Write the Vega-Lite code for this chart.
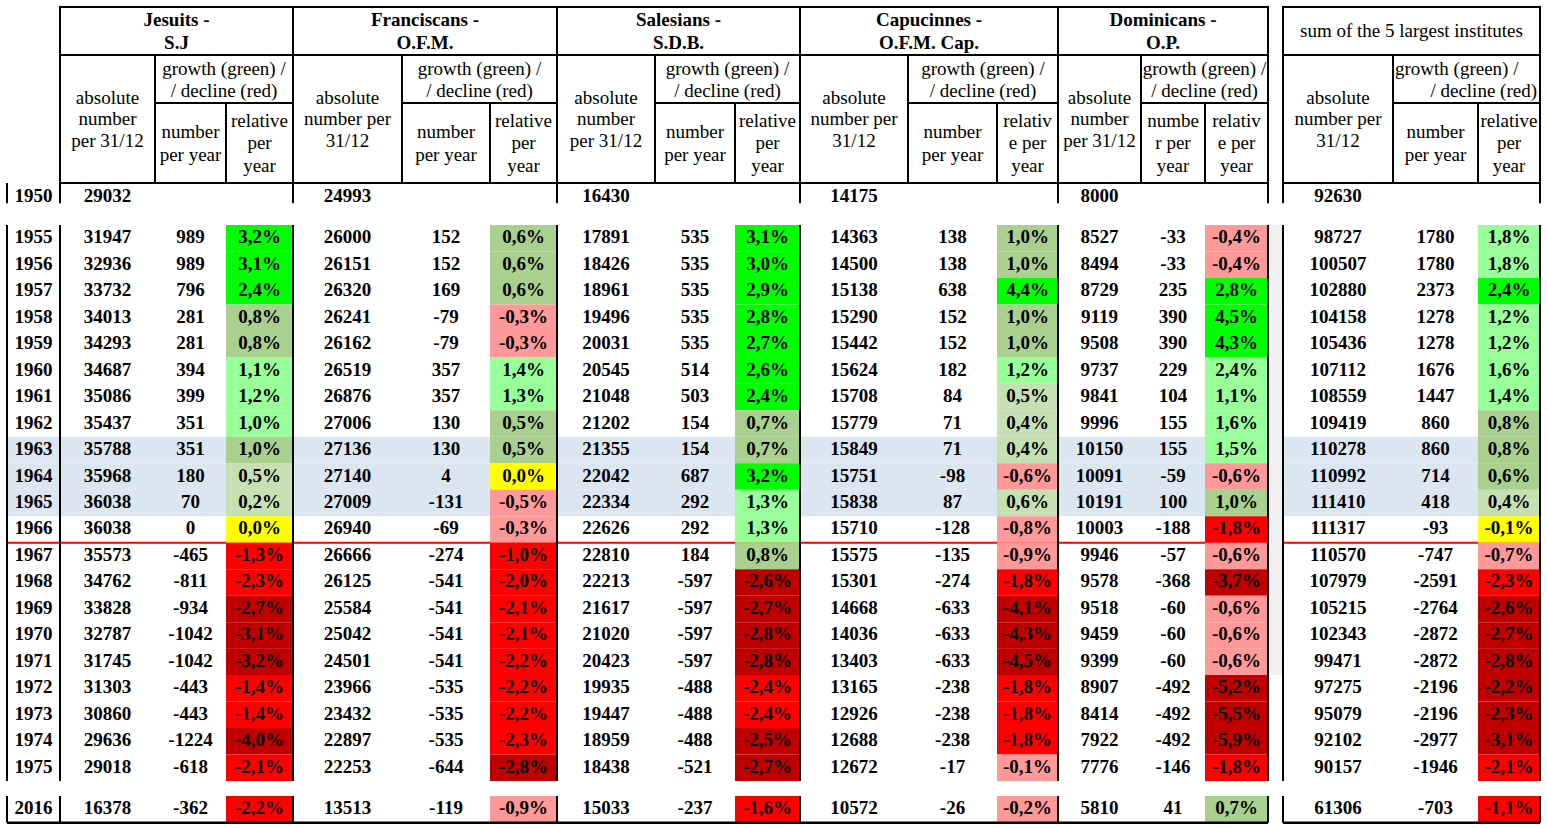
{
"$schema":"https://vega.github.io/schema/vega-lite/v6.json",
"width":1547,"height":828,
"autosize":{"type":"fit","contains":"padding"},
"padding":0,
"background":"#ffffff",
"config":{"view":{"stroke":null},"locale":{"number":{"decimal":",","thousands":".","grouping":[3],"currency":["",""],"minus":"-"}}},
"datasets":{
"cols":[
{"i":"J","L":10,"am":11,"E1":12,"gm":13,"nm":14,"grm":15,"E2":16,"rm":17,"R":20},
{"i":"F","L":20,"am":21,"E1":22,"gm":23,"nm":24,"grm":25,"E2":26,"rm":27,"R":30},
{"i":"S","L":30,"am":31,"E1":32,"gm":33,"nm":34,"grm":35,"E2":36,"rm":37,"R":40},
{"i":"C","L":40,"am":41,"E1":42,"gm":43,"nm":44,"grm":45,"E2":46,"rm":47,"R":50},
{"i":"D","L":50,"am":51,"E1":52,"gm":53,"nm":54,"grm":55,"E2":56,"rm":57,"R":60},
{"i":"T","L":70,"am":71,"E1":72,"gm":73,"nm":74,"grm":75,"E2":76,"rm":77,"R":78}
],
"edges":[{"e":0},{"e":10},{"e":20},{"e":30},{"e":40},{"e":50},{"e":60},{"e":70},{"e":78}],
"head":[
{"i":"J","lv":"inst","t":"Jesuits -\nS.J"},
{"i":"F","lv":"inst","t":"Franciscans -\nO.F.M."},
{"i":"S","lv":"inst","t":"Salesians -\nS.D.B."},
{"i":"C","lv":"inst","t":"Capucinnes -\nO.F.M. Cap."},
{"i":"D","lv":"inst","t":"Dominicans -\nO.P."},
{"i":"T","lv":"inst","t":"sum of the 5 largest institutes"},
{"i":"J","lv":"grow","t":"growth (green) /\n/ decline (red)"},
{"i":"F","lv":"grow","t":"growth (green) /\n/ decline (red)"},
{"i":"S","lv":"grow","t":"growth (green) /\n/ decline (red)"},
{"i":"C","lv":"grow","t":"growth (green) /\n/ decline (red)"},
{"i":"D","lv":"grow","t":"growth (green) /\n/ decline (red)"},
{"i":"T","lv":"growL","t":"growth (green) /"},
{"i":"T","lv":"growR","t":"/ decline (red)"},
{"i":"J","lv":"abs","t":"absolute\nnumber\nper 31/12"},
{"i":"F","lv":"abs","t":"absolute\nnumber per\n31/12"},
{"i":"S","lv":"abs","t":"absolute\nnumber\nper 31/12"},
{"i":"C","lv":"abs","t":"absolute\nnumber per\n31/12"},
{"i":"D","lv":"abs","t":"absolute\nnumber\nper 31/12"},
{"i":"T","lv":"abs","t":"absolute\nnumber per\n31/12"},
{"i":"J","lv":"num","t":"number\nper year"},
{"i":"F","lv":"num","t":"number\nper year"},
{"i":"S","lv":"num","t":"number\nper year"},
{"i":"C","lv":"num","t":"number\nper year"},
{"i":"D","lv":"num","t":"numbe\nr per\nyear"},
{"i":"T","lv":"num","t":"number\nper year"},
{"i":"J","lv":"rel","t":"relative\nper\nyear"},
{"i":"F","lv":"rel","t":"relative\nper\nyear"},
{"i":"S","lv":"rel","t":"relative\nper\nyear"},
{"i":"C","lv":"rel","t":"relativ\ne per\nyear"},
{"i":"D","lv":"rel","t":"relativ\ne per\nyear"},
{"i":"T","lv":"rel","t":"relative\nper\nyear"}
],
"body":[
{"yr":1950,"i":"J","a":29032},{"yr":1950,"i":"F","a":24993},{"yr":1950,"i":"S","a":16430},{"yr":1950,"i":"C","a":14175},{"yr":1950,"i":"D","a":8000},{"yr":1950,"i":"T","a":92630},
{"yr":1955,"i":"J","a":31947,"n":989,"r":0.032,"c":"g4"},{"yr":1955,"i":"F","a":26000,"n":152,"r":0.006,"c":"g2"},{"yr":1955,"i":"S","a":17891,"n":535,"r":0.031,"c":"g4"},{"yr":1955,"i":"C","a":14363,"n":138,"r":0.010,"c":"g2"},{"yr":1955,"i":"D","a":8527,"n":-33,"r":-0.004,"c":"d1"},{"yr":1955,"i":"T","a":98727,"n":1780,"r":0.018,"c":"g3"},
{"yr":1956,"i":"J","a":32936,"n":989,"r":0.031,"c":"g4"},{"yr":1956,"i":"F","a":26151,"n":152,"r":0.006,"c":"g2"},{"yr":1956,"i":"S","a":18426,"n":535,"r":0.030,"c":"g4"},{"yr":1956,"i":"C","a":14500,"n":138,"r":0.010,"c":"g2"},{"yr":1956,"i":"D","a":8494,"n":-33,"r":-0.004,"c":"d1"},{"yr":1956,"i":"T","a":100507,"n":1780,"r":0.018,"c":"g3"},
{"yr":1957,"i":"J","a":33732,"n":796,"r":0.024,"c":"g4"},{"yr":1957,"i":"F","a":26320,"n":169,"r":0.006,"c":"g2"},{"yr":1957,"i":"S","a":18961,"n":535,"r":0.029,"c":"g4"},{"yr":1957,"i":"C","a":15138,"n":638,"r":0.044,"c":"g4"},{"yr":1957,"i":"D","a":8729,"n":235,"r":0.028,"c":"g4"},{"yr":1957,"i":"T","a":102880,"n":2373,"r":0.024,"c":"g4"},
{"yr":1958,"i":"J","a":34013,"n":281,"r":0.008,"c":"g2"},{"yr":1958,"i":"F","a":26241,"n":-79,"r":-0.003,"c":"d1"},{"yr":1958,"i":"S","a":19496,"n":535,"r":0.028,"c":"g4"},{"yr":1958,"i":"C","a":15290,"n":152,"r":0.010,"c":"g2"},{"yr":1958,"i":"D","a":9119,"n":390,"r":0.045,"c":"g4"},{"yr":1958,"i":"T","a":104158,"n":1278,"r":0.012,"c":"g3"},
{"yr":1959,"i":"J","a":34293,"n":281,"r":0.008,"c":"g2"},{"yr":1959,"i":"F","a":26162,"n":-79,"r":-0.003,"c":"d1"},{"yr":1959,"i":"S","a":20031,"n":535,"r":0.027,"c":"g4"},{"yr":1959,"i":"C","a":15442,"n":152,"r":0.010,"c":"g2"},{"yr":1959,"i":"D","a":9508,"n":390,"r":0.043,"c":"g4"},{"yr":1959,"i":"T","a":105436,"n":1278,"r":0.012,"c":"g3"},
{"yr":1960,"i":"J","a":34687,"n":394,"r":0.011,"c":"g3"},{"yr":1960,"i":"F","a":26519,"n":357,"r":0.014,"c":"g3"},{"yr":1960,"i":"S","a":20545,"n":514,"r":0.026,"c":"g4"},{"yr":1960,"i":"C","a":15624,"n":182,"r":0.012,"c":"g3"},{"yr":1960,"i":"D","a":9737,"n":229,"r":0.024,"c":"g3"},{"yr":1960,"i":"T","a":107112,"n":1676,"r":0.016,"c":"g3"},
{"yr":1961,"i":"J","a":35086,"n":399,"r":0.012,"c":"g3"},{"yr":1961,"i":"F","a":26876,"n":357,"r":0.013,"c":"g3"},{"yr":1961,"i":"S","a":21048,"n":503,"r":0.024,"c":"g4"},{"yr":1961,"i":"C","a":15708,"n":84,"r":0.005,"c":"g1"},{"yr":1961,"i":"D","a":9841,"n":104,"r":0.011,"c":"g3"},{"yr":1961,"i":"T","a":108559,"n":1447,"r":0.014,"c":"g3"},
{"yr":1962,"i":"J","a":35437,"n":351,"r":0.010,"c":"g3"},{"yr":1962,"i":"F","a":27006,"n":130,"r":0.005,"c":"g2"},{"yr":1962,"i":"S","a":21202,"n":154,"r":0.007,"c":"g2"},{"yr":1962,"i":"C","a":15779,"n":71,"r":0.004,"c":"g1"},{"yr":1962,"i":"D","a":9996,"n":155,"r":0.016,"c":"g3"},{"yr":1962,"i":"T","a":109419,"n":860,"r":0.008,"c":"g2"},
{"yr":1963,"i":"J","a":35788,"n":351,"r":0.010,"c":"g2"},{"yr":1963,"i":"F","a":27136,"n":130,"r":0.005,"c":"g2"},{"yr":1963,"i":"S","a":21355,"n":154,"r":0.007,"c":"g2"},{"yr":1963,"i":"C","a":15849,"n":71,"r":0.004,"c":"g1"},{"yr":1963,"i":"D","a":10150,"n":155,"r":0.015,"c":"g3"},{"yr":1963,"i":"T","a":110278,"n":860,"r":0.008,"c":"g2"},
{"yr":1964,"i":"J","a":35968,"n":180,"r":0.005,"c":"g1"},{"yr":1964,"i":"F","a":27140,"n":4,"r":0.0,"c":"z"},{"yr":1964,"i":"S","a":22042,"n":687,"r":0.032,"c":"g4"},{"yr":1964,"i":"C","a":15751,"n":-98,"r":-0.006,"c":"d1"},{"yr":1964,"i":"D","a":10091,"n":-59,"r":-0.006,"c":"d1"},{"yr":1964,"i":"T","a":110992,"n":714,"r":0.006,"c":"g2"},
{"yr":1965,"i":"J","a":36038,"n":70,"r":0.002,"c":"g1"},{"yr":1965,"i":"F","a":27009,"n":-131,"r":-0.005,"c":"d1"},{"yr":1965,"i":"S","a":22334,"n":292,"r":0.013,"c":"g3"},{"yr":1965,"i":"C","a":15838,"n":87,"r":0.006,"c":"g1"},{"yr":1965,"i":"D","a":10191,"n":100,"r":0.010,"c":"g2"},{"yr":1965,"i":"T","a":111410,"n":418,"r":0.004,"c":"g1"},
{"yr":1966,"i":"J","a":36038,"n":0,"r":0.0,"c":"z"},{"yr":1966,"i":"F","a":26940,"n":-69,"r":-0.003,"c":"d1"},{"yr":1966,"i":"S","a":22626,"n":292,"r":0.013,"c":"g3"},{"yr":1966,"i":"C","a":15710,"n":-128,"r":-0.008,"c":"d1"},{"yr":1966,"i":"D","a":10003,"n":-188,"r":-0.018,"c":"d2"},{"yr":1966,"i":"T","a":111317,"n":-93,"r":-0.001,"c":"z"},
{"yr":1967,"i":"J","a":35573,"n":-465,"r":-0.013,"c":"d2"},{"yr":1967,"i":"F","a":26666,"n":-274,"r":-0.010,"c":"d2"},{"yr":1967,"i":"S","a":22810,"n":184,"r":0.008,"c":"g2"},{"yr":1967,"i":"C","a":15575,"n":-135,"r":-0.009,"c":"d1"},{"yr":1967,"i":"D","a":9946,"n":-57,"r":-0.006,"c":"d1"},{"yr":1967,"i":"T","a":110570,"n":-747,"r":-0.007,"c":"d1"},
{"yr":1968,"i":"J","a":34762,"n":-811,"r":-0.023,"c":"d2"},{"yr":1968,"i":"F","a":26125,"n":-541,"r":-0.020,"c":"d2"},{"yr":1968,"i":"S","a":22213,"n":-597,"r":-0.026,"c":"d3"},{"yr":1968,"i":"C","a":15301,"n":-274,"r":-0.018,"c":"d2"},{"yr":1968,"i":"D","a":9578,"n":-368,"r":-0.037,"c":"d3"},{"yr":1968,"i":"T","a":107979,"n":-2591,"r":-0.023,"c":"d2"},
{"yr":1969,"i":"J","a":33828,"n":-934,"r":-0.027,"c":"d3"},{"yr":1969,"i":"F","a":25584,"n":-541,"r":-0.021,"c":"d2"},{"yr":1969,"i":"S","a":21617,"n":-597,"r":-0.027,"c":"d3"},{"yr":1969,"i":"C","a":14668,"n":-633,"r":-0.041,"c":"d3"},{"yr":1969,"i":"D","a":9518,"n":-60,"r":-0.006,"c":"d1"},{"yr":1969,"i":"T","a":105215,"n":-2764,"r":-0.026,"c":"d3"},
{"yr":1970,"i":"J","a":32787,"n":-1042,"r":-0.031,"c":"d3"},{"yr":1970,"i":"F","a":25042,"n":-541,"r":-0.021,"c":"d2"},{"yr":1970,"i":"S","a":21020,"n":-597,"r":-0.028,"c":"d3"},{"yr":1970,"i":"C","a":14036,"n":-633,"r":-0.043,"c":"d3"},{"yr":1970,"i":"D","a":9459,"n":-60,"r":-0.006,"c":"d1"},{"yr":1970,"i":"T","a":102343,"n":-2872,"r":-0.027,"c":"d3"},
{"yr":1971,"i":"J","a":31745,"n":-1042,"r":-0.032,"c":"d3"},{"yr":1971,"i":"F","a":24501,"n":-541,"r":-0.022,"c":"d2"},{"yr":1971,"i":"S","a":20423,"n":-597,"r":-0.028,"c":"d3"},{"yr":1971,"i":"C","a":13403,"n":-633,"r":-0.045,"c":"d3"},{"yr":1971,"i":"D","a":9399,"n":-60,"r":-0.006,"c":"d1"},{"yr":1971,"i":"T","a":99471,"n":-2872,"r":-0.028,"c":"d3"},
{"yr":1972,"i":"J","a":31303,"n":-443,"r":-0.014,"c":"d2"},{"yr":1972,"i":"F","a":23966,"n":-535,"r":-0.022,"c":"d2"},{"yr":1972,"i":"S","a":19935,"n":-488,"r":-0.024,"c":"d2"},{"yr":1972,"i":"C","a":13165,"n":-238,"r":-0.018,"c":"d2"},{"yr":1972,"i":"D","a":8907,"n":-492,"r":-0.052,"c":"d3"},{"yr":1972,"i":"T","a":97275,"n":-2196,"r":-0.022,"c":"d3"},
{"yr":1973,"i":"J","a":30860,"n":-443,"r":-0.014,"c":"d2"},{"yr":1973,"i":"F","a":23432,"n":-535,"r":-0.022,"c":"d2"},{"yr":1973,"i":"S","a":19447,"n":-488,"r":-0.024,"c":"d2"},{"yr":1973,"i":"C","a":12926,"n":-238,"r":-0.018,"c":"d2"},{"yr":1973,"i":"D","a":8414,"n":-492,"r":-0.055,"c":"d3"},{"yr":1973,"i":"T","a":95079,"n":-2196,"r":-0.023,"c":"d3"},
{"yr":1974,"i":"J","a":29636,"n":-1224,"r":-0.040,"c":"d3"},{"yr":1974,"i":"F","a":22897,"n":-535,"r":-0.023,"c":"d2"},{"yr":1974,"i":"S","a":18959,"n":-488,"r":-0.025,"c":"d3"},{"yr":1974,"i":"C","a":12688,"n":-238,"r":-0.018,"c":"d2"},{"yr":1974,"i":"D","a":7922,"n":-492,"r":-0.059,"c":"d3"},{"yr":1974,"i":"T","a":92102,"n":-2977,"r":-0.031,"c":"d3"},
{"yr":1975,"i":"J","a":29018,"n":-618,"r":-0.021,"c":"d2"},{"yr":1975,"i":"F","a":22253,"n":-644,"r":-0.028,"c":"d3"},{"yr":1975,"i":"S","a":18438,"n":-521,"r":-0.027,"c":"d3"},{"yr":1975,"i":"C","a":12672,"n":-17,"r":-0.001,"c":"d1"},{"yr":1975,"i":"D","a":7776,"n":-146,"r":-0.018,"c":"d2"},{"yr":1975,"i":"T","a":90157,"n":-1946,"r":-0.021,"c":"d2"},
{"yr":2016,"i":"J","a":16378,"n":-362,"r":-0.022,"c":"d2"},{"yr":2016,"i":"F","a":13513,"n":-119,"r":-0.009,"c":"d1"},{"yr":2016,"i":"S","a":15033,"n":-237,"r":-0.016,"c":"d2"},{"yr":2016,"i":"C","a":10572,"n":-26,"r":-0.002,"c":"d1"},{"yr":2016,"i":"D","a":5810,"n":41,"r":0.007,"c":"g2"},{"yr":2016,"i":"T","a":61306,"n":-703,"r":-0.011,"c":"d2"}
]
},
"resolve":{"scale":{"y":"independent"}},
"layer":[
{
"data":{"name":"head"},
"transform":[{"lookup":"i","from":{"data":{"name":"cols"},"key":"i","fields":["L","am","E1","gm","nm","grm","E2","rm","R"]}}],
"layer":[
{"transform":[{"filter":{"field":"lv","equal":"inst"}}],"mark":{"type":"rect","filled":false,"stroke":"#000000","strokeWidth":2},
"encoding":{"x":{"field":"L","type":"quantitative","scale":{"type":"linear","zero":false,"nice":false,"domain":[0,1,10,11,12,13,14,15,16,17,20,21,22,23,24,25,26,27,30,31,32,33,34,35,36,37,40,41,42,43,44,45,46,47,50,51,52,53,54,55,56,57,60,70,71,72,73,74,75,76,77,78],"range":[7,33.5,60,107.5,155,176.5,190.5,224,226,259.5,293,347.5,402,425,446,479.5,490,523.5,557,606,655,678.5,695,727.5,735,767.5,800,854,908,929,952.5,983,997,1027.5,1058,1099.5,1141,1163,1173,1204.5,1205,1236.5,1268,1283,1338,1393,1411.5,1435.5,1466.5,1478,1509,1540]},"axis":null},"x2":{"field":"R"},
"y":{"datum":0,"type":"quantitative","scale":{"type":"linear","zero":false,"nice":false,"domain":[0,1,2,3,4,5,6,7],"range":[7,31,55,79,103,119,143,183]},"axis":null},"y2":{"datum":2}}},
{"transform":[{"filter":{"field":"lv","oneOf":["grow","growL"]}}],"mark":{"type":"rect","filled":false,"stroke":"#000000","strokeWidth":2},
"encoding":{"x":{"field":"E1","type":"quantitative"},"x2":{"field":"R"},"y":{"datum":2,"type":"quantitative"},"y2":{"datum":4}}},
{"transform":[{"filter":{"field":"lv","equal":"abs"}}],"mark":{"type":"rect","filled":false,"stroke":"#000000","strokeWidth":2},
"encoding":{"x":{"field":"L","type":"quantitative"},"x2":{"field":"E1"},"y":{"datum":2,"type":"quantitative"},"y2":{"datum":7}}},
{"transform":[{"filter":{"field":"lv","equal":"num"}}],"mark":{"type":"rect","filled":false,"stroke":"#000000","strokeWidth":2},
"encoding":{"x":{"field":"E1","type":"quantitative"},"x2":{"field":"E2"},"y":{"datum":4,"type":"quantitative"},"y2":{"datum":7}}},
{"transform":[{"filter":{"field":"lv","equal":"rel"}}],"mark":{"type":"rect","filled":false,"stroke":"#000000","strokeWidth":2},
"encoding":{"x":{"field":"E2","type":"quantitative"},"x2":{"field":"R"},"y":{"datum":4,"type":"quantitative"},"y2":{"datum":7}}},
{"transform":[{"filter":{"field":"lv","equal":"inst"}},{"filter":{"not":{"field":"i","equal":"T"}}}],"mark":{"type":"text","font":"Liberation Serif","fontSize":19,"fontWeight":"bold","lineBreak":"\n","lineHeight":23,"dy":-11.5,"baseline":"middle","align":"center","color":"#000000"},
"encoding":{"x":{"field":"gm","type":"quantitative"},"y":{"datum":1,"type":"quantitative"},"text":{"field":"t"}}},
{"transform":[{"filter":{"field":"lv","equal":"inst"}},{"filter":{"field":"i","equal":"T"}}],"mark":{"type":"text","font":"Liberation Serif","fontSize":19,"baseline":"middle","align":"center","color":"#000000"},
"encoding":{"x":{"field":"gm","type":"quantitative"},"y":{"datum":1,"type":"quantitative"},"text":{"field":"t"}}},
{"transform":[{"filter":{"field":"lv","equal":"grow"}}],"mark":{"type":"text","font":"Liberation Serif","fontSize":19,"lineBreak":"\n","lineHeight":22,"dy":-10,"baseline":"middle","align":"center","color":"#000000"},
"encoding":{"x":{"field":"grm","type":"quantitative"},"y":{"datum":3,"type":"quantitative"},"text":{"field":"t"}}},
{"transform":[{"filter":{"field":"lv","equal":"growL"}}],"mark":{"type":"text","font":"Liberation Serif","fontSize":19,"dx":2,"dy":-10,"baseline":"middle","align":"left","color":"#000000"},
"encoding":{"x":{"field":"E1","type":"quantitative"},"y":{"datum":3,"type":"quantitative"},"text":{"field":"t"}}},
{"transform":[{"filter":{"field":"lv","equal":"growR"}}],"mark":{"type":"text","font":"Liberation Serif","fontSize":19,"dx":-3,"dy":12,"baseline":"middle","align":"right","color":"#000000"},
"encoding":{"x":{"field":"R","type":"quantitative"},"y":{"datum":3,"type":"quantitative"},"text":{"field":"t"}}},
{"transform":[{"filter":{"field":"lv","equal":"abs"}}],"mark":{"type":"text","font":"Liberation Serif","fontSize":19,"lineBreak":"\n","lineHeight":21.5,"dy":-21.5,"baseline":"middle","align":"center","color":"#000000"},
"encoding":{"x":{"field":"am","type":"quantitative"},"y":{"datum":5,"type":"quantitative"},"text":{"field":"t"}}},
{"transform":[{"filter":{"field":"lv","equal":"num"}},{"filter":{"not":{"field":"i","equal":"D"}}}],"mark":{"type":"text","font":"Liberation Serif","fontSize":19,"lineBreak":"\n","lineHeight":23,"dy":-11.5,"baseline":"middle","align":"center","color":"#000000"},
"encoding":{"x":{"field":"nm","type":"quantitative"},"y":{"datum":6,"type":"quantitative"},"text":{"field":"t"}}},
{"transform":[{"filter":{"field":"lv","equal":"num"}},{"filter":{"field":"i","equal":"D"}}],"mark":{"type":"text","font":"Liberation Serif","fontSize":19,"lineBreak":"\n","lineHeight":22.5,"dy":-22.5,"baseline":"middle","align":"center","color":"#000000"},
"encoding":{"x":{"field":"nm","type":"quantitative"},"y":{"datum":6,"type":"quantitative"},"text":{"field":"t"}}},
{"transform":[{"filter":{"field":"lv","equal":"rel"}}],"mark":{"type":"text","font":"Liberation Serif","fontSize":19,"lineBreak":"\n","lineHeight":22.5,"dy":-22.5,"baseline":"middle","align":"center","color":"#000000"},
"encoding":{"x":{"field":"rm","type":"quantitative"},"y":{"datum":6,"type":"quantitative"},"text":{"field":"t"}}}
]
},
{
"data":{"name":"body"},
"transform":[{"lookup":"i","from":{"data":{"name":"cols"},"key":"i","fields":["am","nm","rm","E2","R"]}}],
"layer":[
{"transform":[{"filter":{"field":"i","equal":"J"}},{"filter":{"field":"yr","range":[1963,1965]}}],"mark":{"type":"rect","color":"#dce6f1","height":26.5},
"encoding":{"x":{"datum":0,"type":"quantitative","scale":{"type":"linear","zero":false,"nice":false,"domain":[0,1,10,11,12,13,14,15,16,17,20,21,22,23,24,25,26,27,30,31,32,33,34,35,36,37,40,41,42,43,44,45,46,47,50,51,52,53,54,55,56,57,60,70,71,72,73,74,75,76,77,78],"range":[7,33.5,60,107.5,155,176.5,190.5,224,226,259.5,293,347.5,402,425,446,479.5,490,523.5,557,606,655,678.5,695,727.5,735,767.5,800,854,908,929,952.5,983,997,1027.5,1058,1099.5,1141,1163,1173,1204.5,1205,1236.5,1268,1283,1338,1393,1411.5,1435.5,1466.5,1478,1509,1540]},"axis":null},"x2":{"datum":60},
"y":{"field":"yr","type":"quantitative","scale":{"type":"linear","zero":false,"nice":false,"domain":[1949.5,1950.5,1954.5,1975.5,2015.5,2016.5],"range":[183,210,225,781,796,822.7]},"axis":null}}},
{"transform":[{"filter":{"field":"i","equal":"J"}},{"filter":{"field":"yr","range":[1963,1965]}}],"mark":{"type":"rect","color":"#dce6f1","height":26.5},
"encoding":{"x":{"datum":70,"type":"quantitative"},"x2":{"datum":78},"y":{"field":"yr","type":"quantitative"}}},
{"transform":[{"filter":{"field":"i","equal":"J"}},{"filter":{"field":"yr","range":[1955,1971]}}],"mark":{"type":"rect","color":"#f0f0f0","height":26.5},
"encoding":{"x":{"datum":60,"type":"quantitative"},"x2":{"datum":70},"y":{"field":"yr","type":"quantitative"}}},
{"data":{"values":[{}]},"mark":{"type":"rule","color":"#ff0000","strokeWidth":2},
"encoding":{"x":{"datum":0,"type":"quantitative"},"x2":{"datum":60},"y":{"datum":1966.5,"type":"quantitative"}}},
{"data":{"values":[{}]},"mark":{"type":"rule","color":"#ff0000","strokeWidth":2},
"encoding":{"x":{"datum":70,"type":"quantitative"},"x2":{"datum":78},"y":{"datum":1966.5,"type":"quantitative"}}},
{"transform":[{"filter":{"field":"r","valid":true}}],"mark":{"type":"rect","height":26.5},
"encoding":{"x":{"field":"E2","type":"quantitative"},"x2":{"field":"R"},"y":{"field":"yr","type":"quantitative"},
"color":{"field":"c","type":"nominal","scale":{"domain":["g4","g3","g2","g1","z","d1","d2","d3"],"range":["#00ff00","#99ff99","#a9d08e","#c6e0b4","#ffff00","#ff9999","#ff0000","#c00000"]},"legend":null}}},
{"data":{"name":"edges"},"mark":{"type":"rule","color":"#000000","strokeWidth":2},
"encoding":{"x":{"field":"e","type":"quantitative"},"y":{"datum":1949.5,"type":"quantitative"},"y2":{"datum":1950.25}}},
{"data":{"name":"edges"},"mark":{"type":"rule","color":"#000000","strokeWidth":2},
"encoding":{"x":{"field":"e","type":"quantitative"},"y":{"datum":1954.5,"type":"quantitative"},"y2":{"datum":1975.5}}},
{"data":{"name":"edges"},"mark":{"type":"rule","color":"#000000","strokeWidth":2},
"encoding":{"x":{"field":"e","type":"quantitative"},"y":{"datum":2015.5,"type":"quantitative"},"y2":{"datum":2016.5}}},
{"data":{"values":[{}]},"mark":{"type":"rule","color":"#000000","strokeWidth":2.5},
"encoding":{"x":{"datum":0,"type":"quantitative"},"x2":{"datum":60},"y":{"datum":2016.5,"type":"quantitative"}}},
{"data":{"values":[{}]},"mark":{"type":"rule","color":"#000000","strokeWidth":2.5},
"encoding":{"x":{"datum":70,"type":"quantitative"},"x2":{"datum":78},"y":{"datum":2016.5,"type":"quantitative"}}},
{"transform":[{"filter":{"field":"i","equal":"J"}}],"mark":{"type":"text","font":"Liberation Serif","fontSize":19,"fontWeight":"bold","baseline":"middle","align":"center","color":"#000000","dy":-1},
"encoding":{"x":{"datum":1,"type":"quantitative"},"y":{"field":"yr","type":"quantitative"},"text":{"field":"yr","type":"quantitative","format":"d"}}},
{"mark":{"type":"text","font":"Liberation Serif","fontSize":19,"fontWeight":"bold","baseline":"middle","align":"center","color":"#000000","dy":-1},
"encoding":{"x":{"field":"am","type":"quantitative"},"y":{"field":"yr","type":"quantitative"},"text":{"field":"a","type":"quantitative","format":"d"}}},
{"transform":[{"filter":{"field":"n","valid":true}}],"mark":{"type":"text","font":"Liberation Serif","fontSize":19,"fontWeight":"bold","baseline":"middle","align":"center","color":"#000000","dy":-1},
"encoding":{"x":{"field":"nm","type":"quantitative"},"y":{"field":"yr","type":"quantitative"},"text":{"field":"n","type":"quantitative","format":"d"}}},
{"transform":[{"filter":{"field":"r","valid":true}}],"mark":{"type":"text","font":"Liberation Serif","fontSize":19,"fontWeight":"bold","baseline":"middle","align":"center","color":"#000000","dy":-1},
"encoding":{"x":{"field":"rm","type":"quantitative"},"y":{"field":"yr","type":"quantitative"},"text":{"field":"r","type":"quantitative","format":".1%"}}}
]
}
]
}
